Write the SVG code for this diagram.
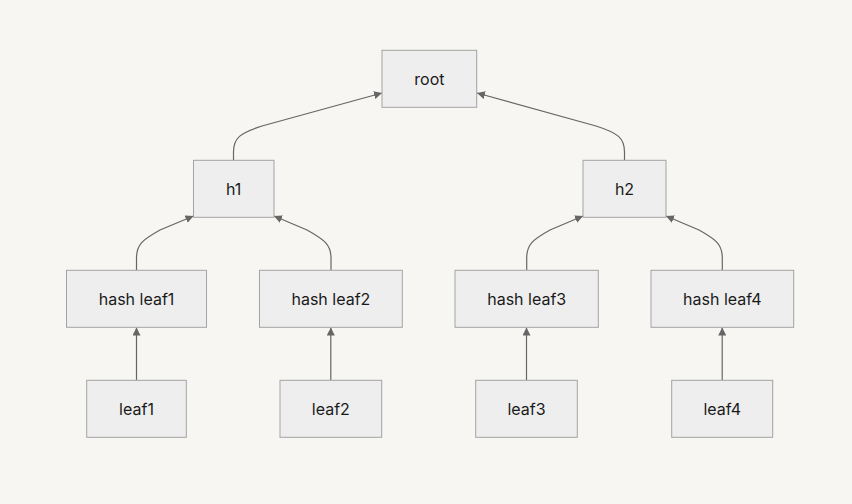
<svg xmlns="http://www.w3.org/2000/svg" width="852" height="504" viewBox="0 0 852 504">
<defs>
<style>
.node rect{fill:#eeeeee;stroke:#a3a3a3;stroke-width:1}
.node text{font-family:Inter,"Noto Sans","Liberation Sans",sans-serif;font-size:16px;fill:#1a1a1a;text-anchor:middle;dominant-baseline:central}
.edges path{fill:none;stroke:#666666;stroke-width:1.2}
</style>
<marker id="arr" viewBox="0 0 10 10" refX="10" refY="5" markerWidth="8" markerHeight="8" markerUnits="userSpaceOnUse" orient="auto">
<path d="M0,0 L10,5 L0,10 z" fill="#666666"/>
</marker>
</defs>
<rect width="852" height="504" fill="#f7f6f3"/>
<g class="edges">
<path d="M233.5,160 L233.5,152 C233.5,138 240,133 262,126 L382,93" marker-end="url(#arr)"/>
<path d="M624.5,160 L624.5,152 C624.5,138 618,133 596,126 L477,93" marker-end="url(#arr)"/>
<path d="M136.5,270 L136.5,258 C136.5,245 142,240 160,230 L193.5,216" marker-end="url(#arr)"/>
<path d="M331,270 L331,258 C331,245 325,240 307,230 L274,216" marker-end="url(#arr)"/>
<path d="M526.7,270 L526.7,258 C526.7,245 532,240 550,230 L583,216" marker-end="url(#arr)"/>
<path d="M722.3,270 L722.3,258 C722.3,245 717,240 699,230 L666,216" marker-end="url(#arr)"/>
<path d="M136.5,380 L136.5,327.5" marker-end="url(#arr)"/>
<path d="M330.8,380 L330.8,327.5" marker-end="url(#arr)"/>
<path d="M526.5,380 L526.5,327.5" marker-end="url(#arr)"/>
<path d="M722.2,380 L722.2,327.5" marker-end="url(#arr)"/>
</g>
<g id="root" class="node"><rect x="382" y="50.3" width="94.7" height="57"/><text x="429.4" y="79">root</text></g>
<g id="h1" class="node"><rect x="193.5" y="160.3" width="80.5" height="57"/><text x="233.7" y="189">h1</text></g>
<g id="h2" class="node"><rect x="583" y="160.3" width="83" height="57"/><text x="624.5" y="189">h2</text></g>
<g id="hl1" class="node"><rect x="66.5" y="270.3" width="140" height="57"/><text x="136.5" y="299">hash leaf1</text></g>
<g id="hl2" class="node"><rect x="259.5" y="270.3" width="142.8" height="57"/><text x="330.9" y="299">hash leaf2</text></g>
<g id="hl3" class="node"><rect x="455" y="270.3" width="143.3" height="57"/><text x="526.7" y="299">hash leaf3</text></g>
<g id="hl4" class="node"><rect x="651" y="270.3" width="142.7" height="57"/><text x="722.3" y="299">hash leaf4</text></g>
<g id="l1" class="node"><rect x="86.7" y="380.3" width="99.6" height="57"/><text x="136.5" y="409">leaf1</text></g>
<g id="l2" class="node"><rect x="280" y="380.3" width="101.7" height="57"/><text x="330.8" y="409">leaf2</text></g>
<g id="l3" class="node"><rect x="475.7" y="380.3" width="101.6" height="57"/><text x="526.5" y="409">leaf3</text></g>
<g id="l4" class="node"><rect x="671.7" y="380.3" width="101" height="57"/><text x="722.2" y="409">leaf4</text></g>
</svg>
